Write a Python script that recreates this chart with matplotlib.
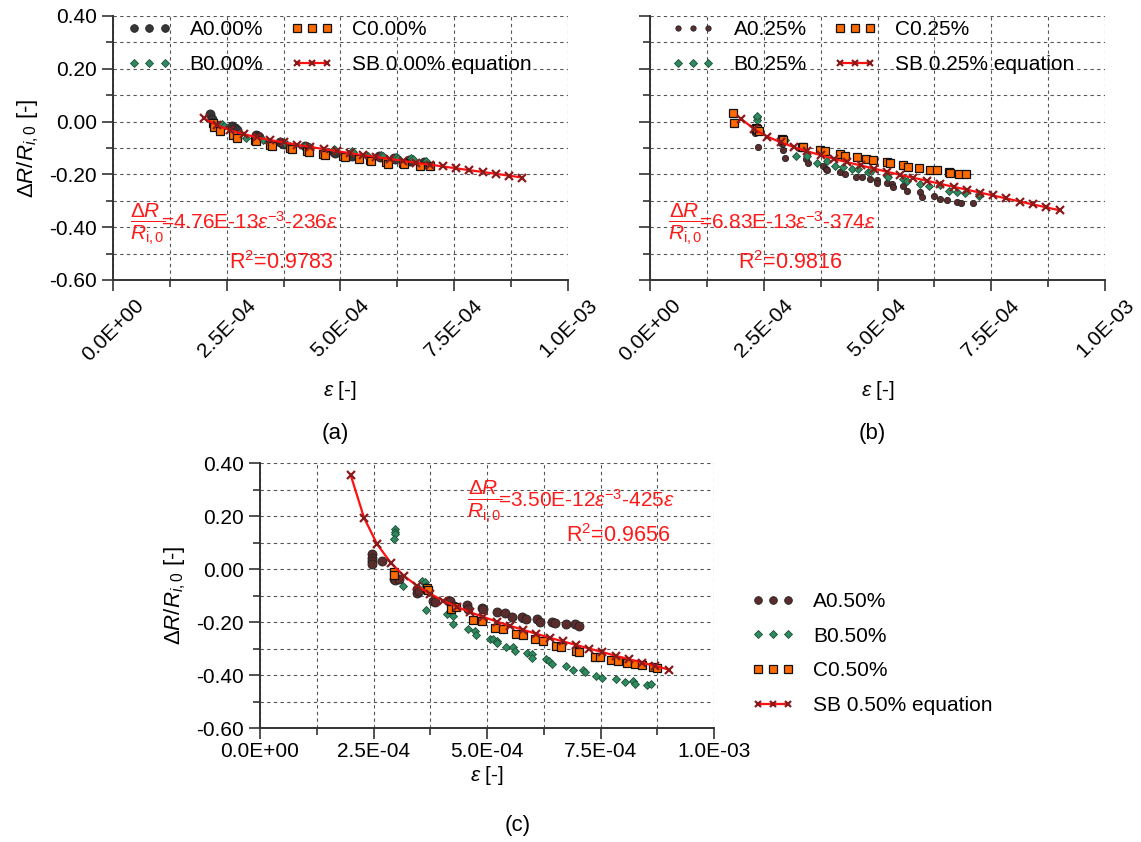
import numpy as np
import matplotlib
matplotlib.use('Agg')
import matplotlib.pyplot as plt
from matplotlib.ticker import MultipleLocator, FuncFormatter

plt.rcParams['font.family'] = 'Liberation Sans'
plt.rcParams['mathtext.fontset'] = 'custom'
plt.rcParams['mathtext.rm'] = 'Liberation Sans'
plt.rcParams['mathtext.it'] = 'Liberation Sans:italic'
plt.rcParams['axes.unicode_minus'] = False

# strain values in units of 1e-4
# ---- panel (a) 0.00%
a_epsA = [2.13, 2.18, 2.62, 2.68, 2.72, 3.15, 3.19, 3.22, 3.68, 3.71, 3.75, 4.22, 4.26, 4.30, 4.85, 4.89, 5.22, 5.25, 5.84, 5.87, 6.17, 6.20, 6.50, 6.53, 6.83, 6.86]
a_drA = [0.030, 0.008, -0.018, -0.024, -0.030, -0.052, -0.056, -0.060, -0.077, -0.081, -0.085, -0.094, -0.097, -0.101, -0.116, -0.119, -0.126, -0.129, -0.132, -0.135, -0.138, -0.140, -0.145, -0.148, -0.155, -0.160]
a_epsB = [2.25, 2.39, 2.45, 2.80, 2.92, 3.30, 3.40, 3.80, 3.88, 4.22, 4.30, 4.85, 4.89, 5.25, 5.27, 5.56, 5.60, 5.90, 5.94, 6.23, 6.27, 6.56, 6.60, 6.88]
a_drB = [-0.002, -0.009, -0.015, -0.045, -0.063, -0.070, -0.078, -0.085, -0.092, -0.091, -0.095, -0.104, -0.108, -0.112, -0.114, -0.125, -0.129, -0.127, -0.130, -0.133, -0.137, -0.139, -0.142, -0.148]
a_epsC = [2.20, 2.23, 2.35, 2.64, 2.72, 3.12, 3.15, 3.45, 3.50, 3.89, 3.93, 4.26, 4.30, 4.62, 4.66, 5.06, 5.10, 5.40, 5.65, 5.68, 6.01, 6.05, 6.37, 6.40, 6.75, 6.97]
a_drC = [-0.005, -0.021, -0.034, -0.050, -0.063, -0.068, -0.075, -0.088, -0.091, -0.100, -0.104, -0.112, -0.116, -0.122, -0.126, -0.132, -0.135, -0.140, -0.145, -0.148, -0.155, -0.160, -0.158, -0.162, -0.167, -0.170]

# ---- panel (b) 0.25%
b_epsA = [2.29, 2.31, 2.38, 2.89, 2.93, 2.97, 3.43, 3.48, 3.81, 3.86, 3.90, 4.18, 4.29, 4.53, 4.65, 4.84, 4.98, 4.98, 5.20, 5.31, 5.33, 5.57, 5.64, 5.93, 5.97, 6.23, 6.37, 6.52, 6.74, 6.83, 7.09]
b_drA = [-0.034, -0.044, -0.097, -0.084, -0.107, -0.137, -0.141, -0.157, -0.169, -0.178, -0.183, -0.191, -0.197, -0.209, -0.209, -0.219, -0.222, -0.232, -0.232, -0.237, -0.246, -0.244, -0.262, -0.266, -0.285, -0.282, -0.295, -0.297, -0.303, -0.310, -0.310]
b_epsB = [2.35, 2.35, 2.36, 2.93, 2.96, 3.21, 3.44, 3.66, 3.88, 4.07, 4.25, 4.43, 4.58, 4.80, 4.85, 5.20, 5.24, 5.57, 5.64, 5.93, 6.14, 6.37, 6.56, 6.74, 6.92, 7.22, 7.24]
b_drB = [0.016, 0.007, 0.023, -0.078, -0.070, -0.132, -0.132, -0.156, -0.150, -0.168, -0.172, -0.178, -0.178, -0.190, -0.186, -0.205, -0.210, -0.216, -0.224, -0.235, -0.244, -0.241, -0.263, -0.266, -0.272, -0.282, -0.275]
b_epsC = [1.82, 1.85, 2.33, 2.36, 2.40, 2.89, 2.92, 3.33, 3.37, 3.74, 3.85, 4.18, 4.29, 4.54, 4.74, 4.91, 5.20, 5.27, 5.57, 5.68, 5.92, 6.15, 6.30, 6.56, 6.59, 6.78, 6.95]
b_drC = [0.031, -0.005, -0.024, -0.028, -0.034, -0.065, -0.071, -0.095, -0.097, -0.108, -0.112, -0.122, -0.130, -0.134, -0.142, -0.144, -0.154, -0.158, -0.165, -0.172, -0.174, -0.182, -0.182, -0.190, -0.193, -0.197, -0.199]

# ---- panel (c) 0.50%
c_epsA = [2.46, 2.46, 2.46, 2.46, 2.69, 2.94, 2.97, 3.05, 3.45, 3.45, 3.50, 3.82, 3.85, 4.16, 4.19, 4.27, 4.55, 4.58, 4.88, 4.92, 5.21, 5.40, 5.54, 5.76, 5.86, 6.09, 6.17, 6.43, 6.50, 6.74, 6.94, 7.03]
c_drA = [0.057, 0.044, 0.031, 0.019, 0.031, -0.038, -0.042, -0.038, -0.075, -0.090, -0.082, -0.119, -0.122, -0.120, -0.119, -0.138, -0.136, -0.149, -0.145, -0.150, -0.161, -0.166, -0.179, -0.180, -0.189, -0.189, -0.197, -0.197, -0.201, -0.205, -0.205, -0.214]
c_epsB = [2.97, 2.97, 2.97, 2.96, 3.16, 3.56, 3.63, 3.65, 3.66, 4.11, 4.24, 4.24, 4.57, 4.74, 4.76, 5.07, 5.14, 5.21, 5.21, 5.42, 5.58, 5.62, 5.89, 5.98, 5.98, 6.30, 6.37, 6.43, 6.74, 6.89, 7.11, 7.16, 7.40, 7.53, 7.84, 8.04, 8.21, 8.27, 8.53, 8.61]
c_drB = [0.151, 0.141, 0.132, 0.113, -0.063, -0.044, -0.050, -0.063, -0.154, -0.170, -0.176, -0.208, -0.226, -0.233, -0.248, -0.262, -0.262, -0.270, -0.279, -0.293, -0.293, -0.308, -0.314, -0.321, -0.333, -0.337, -0.346, -0.358, -0.365, -0.381, -0.380, -0.386, -0.403, -0.409, -0.415, -0.425, -0.421, -0.434, -0.438, -0.434]
c_epsC = [2.94, 2.96, 3.67, 3.70, 4.20, 4.32, 4.70, 4.88, 5.18, 5.36, 5.64, 5.80, 6.06, 6.23, 6.52, 6.62, 6.97, 7.03, 7.38, 7.49, 7.72, 7.89, 8.08, 8.26, 8.41, 8.66, 8.74]
c_drC = [-0.010, -0.020, -0.070, -0.078, -0.148, -0.143, -0.192, -0.195, -0.220, -0.226, -0.245, -0.249, -0.264, -0.270, -0.289, -0.293, -0.308, -0.310, -0.329, -0.329, -0.342, -0.346, -0.352, -0.358, -0.361, -0.369, -0.371]

# SB equation points
sb_eps = [2.00, 2.29, 2.58, 2.88, 3.17, 3.46, 3.75, 4.04, 4.33, 4.63, 4.92, 5.21, 5.50, 5.79, 6.08, 6.38, 6.67, 6.96, 7.25, 7.54, 7.83, 8.13, 8.42, 8.71, 9.00]
sb_a = [0.012, -0.014, -0.033, -0.048, -0.060, -0.070, -0.079, -0.088, -0.096, -0.104, -0.112, -0.120, -0.127, -0.134, -0.141, -0.149, -0.156, -0.163, -0.170, -0.177, -0.184, -0.191, -0.198, -0.205, -0.212]
sb_b = [0.011, -0.029, -0.057, -0.079, -0.097, -0.113, -0.127, -0.141, -0.154, -0.166, -0.178, -0.190, -0.202, -0.213, -0.224, -0.236, -0.247, -0.258, -0.269, -0.280, -0.291, -0.303, -0.314, -0.325, -0.336]
sb_c = [0.353, 0.194, 0.094, 0.024, -0.025, -0.063, -0.093, -0.119, -0.141, -0.162, -0.180, -0.197, -0.213, -0.228, -0.243, -0.258, -0.272, -0.285, -0.299, -0.312, -0.326, -0.339, -0.352, -0.365, -0.378]

xticks = [0, 2.5e-4, 5e-4, 7.5e-4, 1e-3]
red = '#ff1a1a'

fig = plt.figure(figsize=(11.41, 8.42), dpi=100)


def panel(ax, epsA, drA, epsB, drB, epsC, drC, sb, pct, colA, msA, rot):
    e = 1e-4
    lA, = ax.plot(np.array(epsA) * e, drA, 'o', ms=msA, mfc=colA, mec='#222222', mew=0.6, ls='none', label='A' + pct)
    lB, = ax.plot(np.array(epsB) * e, drB, 'D', ms=4.5, mfc='#2e8b60', mec='#1e4d36', mew=0.6, ls='none', label='B' + pct)
    lC, = ax.plot(np.array(epsC) * e, drC, 's', ms=6, mfc='#ff6a00', mec='#111111', mew=0.9, ls='none', label='C' + pct)
    lS, = ax.plot(np.array(sb_eps) * e, sb, '-', color='#ff1010', lw=1.6, marker='x', ms=5.5, mec='#8b1a1a', mew=1.6, label='SB ' + pct + ' equation', zorder=4)
    ax.set_xlim(0, 1e-3)
    ax.set_ylim(-0.6, 0.4)
    ax.set_xticks(xticks)
    ax.xaxis.set_minor_locator(MultipleLocator(1.25e-4))
    ax.yaxis.set_major_locator(MultipleLocator(0.2))
    ax.yaxis.set_minor_locator(MultipleLocator(0.1))
    ax.xaxis.set_major_formatter(FuncFormatter(lambda v, p: '{:.1E}'.format(v)))
    ax.yaxis.set_major_formatter(FuncFormatter(lambda v, p: '{:.2f}'.format(v)))
    ax.grid(which='both', ls=(0, (3, 3)), color='#555555', lw=0.8)
    for s in ['top', 'right']:
        ax.spines[s].set_visible(False)
    for s in ['left', 'bottom']:
        ax.spines[s].set_color('#333333')
        ax.spines[s].set_linewidth(1.4)
    ax.tick_params(which='major', direction='out', length=8, width=1.2, color='#333333', labelsize=15)
    ax.tick_params(which='minor', direction='out', length=5, width=1.2, color='#333333')
    if rot:
        for t in ax.get_xticklabels():
            t.set_rotation(45)
            t.set_ha('center')
    return [lA, lB, lC, lS]


def equation(ax, x0, y0, rhs):
    # stacked fraction dR / R_i,0 followed by the fitted expression
    ax.annotate(r'$\mathit{ΔR}$', (x0, y0), xytext=(0.5, 1.5), textcoords='offset points',
                color=red, fontsize=15, ha='left', va='bottom')
    ax.annotate(r'$\overline{\mathit{R}_{\mathrm{i,0}}}$', (x0, y0), xytext=(0, 3), textcoords='offset points',
                color=red, fontsize=15, ha='left', va='top')
    ax.annotate(rhs, (x0, y0), xytext=(22.5, -4.5), textcoords='offset points',
                color=red, fontsize=15, ha='left', va='baseline')


ylab = r'$\mathit{ΔR/R}_{\mathit{i,0}}$ [-]'
xlab = r'$\mathit{\varepsilon}$ [-]'
eps_s = r'$\mathit{\varepsilon}$'
leg_kw = dict(frameon=False, numpoints=3, fontsize=15, handlelength=2.05, handletextpad=0.9,
              labelspacing=0.75, borderaxespad=0, markerscale=0.85)

# (a)
ax1 = fig.add_axes([0.0990, 0.6675, 0.3988, 0.3135])
h = panel(ax1, a_epsA, a_drA, a_epsB, a_drB, a_epsC, a_drC, sb_a, '0.00%', '#363636', 6.5, True)
ax1.legend(handles=h, ncol=2, loc='upper left', bbox_to_anchor=(0.015, 1.015), columnspacing=1.3, **leg_kw)
ax1.set_ylabel(ylab, fontsize=16, labelpad=6)
ax1.set_xlabel(xlab, fontsize=15, labelpad=10)
equation(ax1, 0.37e-4, -0.383, '=4.76E-13' + eps_s + r'$^{-3}$-236' + eps_s)
ax1.text(4.84e-4, -0.535, r'R$^2$=0.9783', color=red, fontsize=15.5, ha='right', va='center')

# (b)
ax2 = fig.add_axes([0.5697, 0.6675, 0.3988, 0.3135])
h = panel(ax2, b_epsA, b_drA, b_epsB, b_drB, b_epsC, b_drC, sb_b, '0.25%', '#5a2c2c', 4.5, True)
ax2.tick_params(axis='y', labelleft=False)
ax2.legend(handles=h, ncol=2, loc='upper left', bbox_to_anchor=(0.03, 1.015), columnspacing=1.3, **leg_kw)
ax2.set_xlabel(xlab, fontsize=15, labelpad=10)
equation(ax2, 0.40e-4, -0.383, '=6.83E-13' + eps_s + r'$^{-3}$-374' + eps_s)
ax2.text(4.22e-4, -0.535, r'R$^2$=0.9816', color=red, fontsize=15.5, ha='right', va='center')

# (c)
ax3 = fig.add_axes([0.2279, 0.1348, 0.3979, 0.3153])
h = panel(ax3, c_epsA, c_drA, c_epsB, c_drB, c_epsC, c_drC, sb_c, '0.50%', '#5a2c2c', 6.5, False)
ax3.tick_params(axis='x', pad=2)
ax3.legend(handles=h, loc='upper left', bbox_to_anchor=(1.065, 0.545), **leg_kw)
ax3.set_ylabel(ylab, fontsize=16, labelpad=6)
ax3.set_xlabel(xlab, fontsize=15, labelpad=2)
equation(ax3, 4.56e-4, 0.26, '=3.50E-12' + eps_s + r'$^{-3}$-425' + eps_s)
ax3.text(9.03e-4, 0.125, r'R$^2$=0.9656', color=red, fontsize=15.5, ha='right', va='center')

fig.text(335 / 1141, 1 - 433 / 842, '(a)', fontsize=16, ha='center', va='center')
fig.text(872 / 1141, 1 - 433 / 842, '(b)', fontsize=16, ha='center', va='center')
fig.text(518 / 1141, 1 - 826 / 842, '(c)', fontsize=16, ha='center', va='center')

fig.savefig('out.png', dpi=100)
